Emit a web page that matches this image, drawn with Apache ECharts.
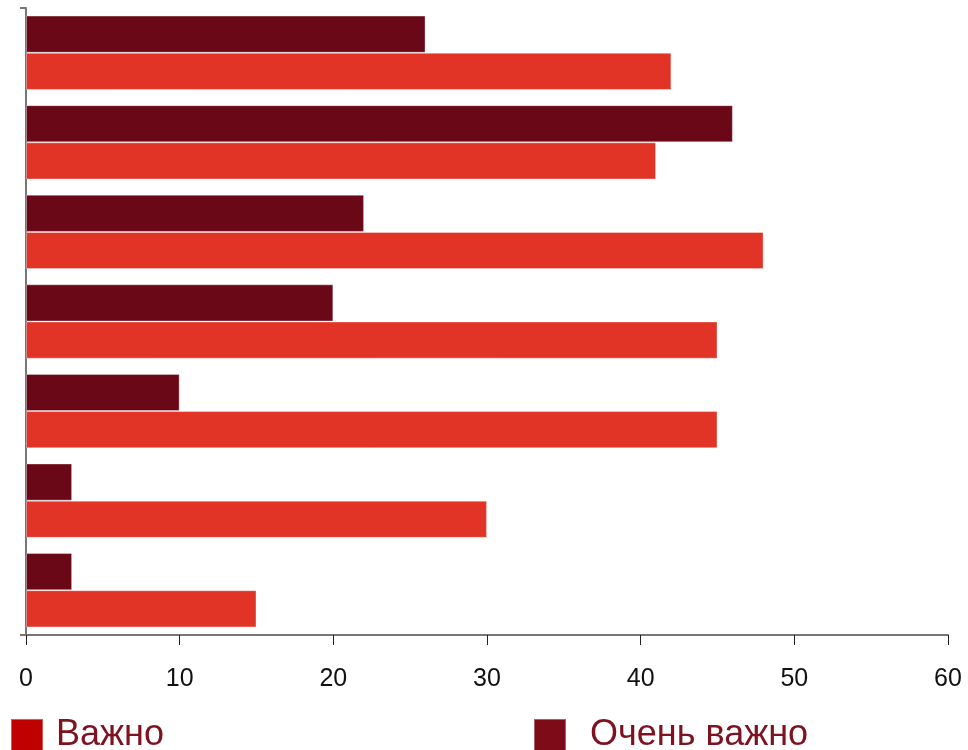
<!DOCTYPE html>
<html>
<head>
<meta charset="utf-8">
<script src="https://cdn.jsdelivr.net/npm/echarts@6/dist/echarts.min.js"></script>
<style>
  html, body { margin: 0; padding: 0; background: #fff; }
  #chart { width: 968px; height: 750px; }
</style>
</head>
<body>
<div id="chart"></div>
<script>
// Seven survey items, top to bottom
const categories = ['1', '2', '3', '4', '5', '6', '7'];
const seriesNames = ['Важно', 'Очень важно'];
const importantValues = [42, 41, 48, 45, 45, 30, 15];
const veryImportantValues = [26, 46, 22, 20, 10, 3, 3];
const xTicks = [0, 10, 20, 30, 40, 50, 60];

const font = '"Liberation Sans", Arial, sans-serif';

const chart = echarts.init(document.getElementById('chart'), null, { renderer: 'canvas' });
chart.setOption({
  animation: false,
  backgroundColor: '#ffffff',
  grid: { left: 26, right: 20, top: 8, bottom: 115, containLabel: false },
  xAxis: {
    type: 'value',
    min: xTicks[0],
    max: xTicks[xTicks.length - 1],
    interval: xTicks[1] - xTicks[0],
    axisLine: { show: true, lineStyle: { color: '#777', width: 2 } },
    axisTick: { show: true, length: 10, lineStyle: { color: '#222', width: 1 } },
    splitLine: { show: false },
    axisLabel: { color: '#111', fontSize: 25, fontFamily: font, margin: 32 }
  },
  yAxis: {
    type: 'category',
    data: categories,
    inverse: true,
    axisLine: { show: true, lineStyle: { color: '#777', width: 2 } },
    // only the top boundary carries a tick
    axisTick: { show: true, length: 6, interval: (i) => i === 0, lineStyle: { color: '#777', width: 2 } },
    axisLabel: { show: false }
  },
  legend: [
    {
      left: 10, top: 717, padding: 0, itemWidth: 32, itemHeight: 32,
      icon: 'rect',
      textStyle: { color: '#7D1220', fontSize: 36, fontFamily: font, padding: [0, 0, 0, 8] },
      data: [{ name: seriesNames[0], itemStyle: { color: '#C00000' } }]
    },
    {
      left: 533, top: 717, padding: 0, itemWidth: 32, itemHeight: 32,
      icon: 'rect',
      textStyle: { color: '#7D1220', fontSize: 36, fontFamily: font, padding: [0, 0, 0, 19] },
      data: [{ name: seriesNames[1], itemStyle: { color: '#7B0C18' } }]
    }
  ],
  series: [
    {
      name: seriesNames[1],
      type: 'bar',
      data: veryImportantValues,
      barGap: '0%',
      barCategoryGap: '17%',
      itemStyle: { color: '#6B0818', borderColor: 'rgba(255,255,255,0.35)', borderWidth: 1 }
    },
    {
      name: seriesNames[0],
      type: 'bar',
      data: importantValues,
      barGap: '0%',
      barCategoryGap: '17%',
      itemStyle: { color: '#E23426', borderColor: 'rgba(255,255,255,0.35)', borderWidth: 1 }
    }
  ]
});
</script>
</body>
</html>
